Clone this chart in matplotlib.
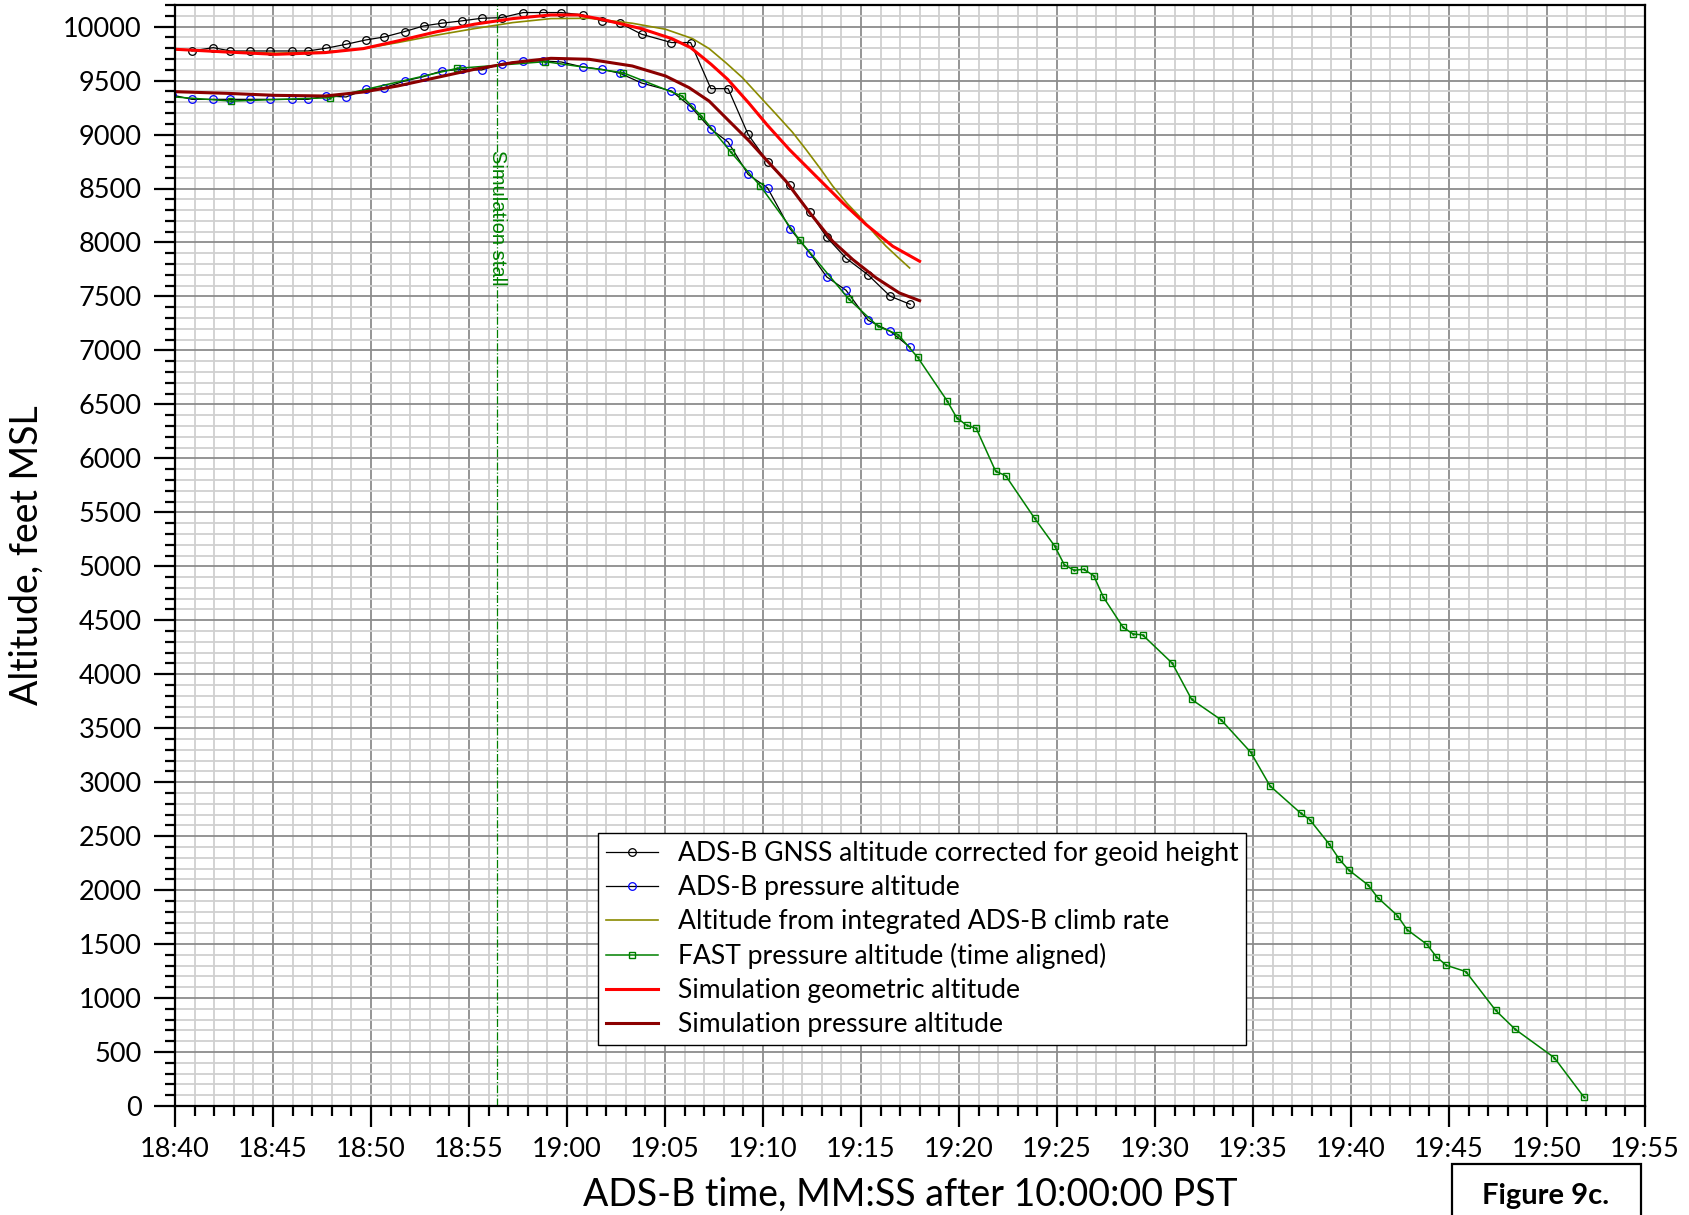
import matplotlib
matplotlib.use("Agg")
import matplotlib.pyplot as plt
from matplotlib.ticker import MultipleLocator, FuncFormatter
from matplotlib.patches import Rectangle

# times are seconds after 10:00:00 (shown as MM:SS)
gnss_t = [1120.86, 1121.95, 1122.83, 1123.85, 1124.86, 1125.96, 1126.78, 1127.70, 1128.73, 1129.73,
          1130.68, 1131.72, 1132.68, 1133.61, 1134.63, 1135.64, 1136.66, 1137.77, 1138.75, 1139.71,
          1140.80, 1141.78, 1142.71, 1143.81, 1145.33, 1146.31, 1147.34, 1148.22, 1149.24, 1150.23,
          1151.37, 1152.38, 1153.25, 1154.24, 1155.36, 1156.49, 1157.51]
gnss_alt = [9774, 9805, 9774, 9774, 9774, 9774, 9774, 9799, 9836, 9876,
            9904, 9954, 10006, 10031, 10053, 10077, 10083, 10130, 10130, 10130,
            10108, 10053, 10031, 9929, 9852, 9852, 9425, 9425, 9001, 8748,
            8528, 8281, 8049, 7854, 7700, 7502, 7427]

press_t = [1119.86] + gnss_t
press_alt = [9366, 9326, 9326, 9326, 9326, 9326, 9326, 9326, 9357, 9348, 9419,
             9434, 9496, 9536, 9589, 9604, 9598, 9657, 9682, 9682, 9672,
             9626, 9604, 9567, 9477, 9403, 9258, 9051, 8930, 8630, 8506,
             8129, 7904, 7681, 7557, 7279, 7177, 7028]

climb_t = [1120.0, 1122.58, 1125.12, 1127.66, 1129.61, 1131.37, 1133.32, 1135.27, 1137.23, 1139.18,
           1141.13, 1143.33, 1145.03, 1146.40, 1147.25, 1148.10, 1148.95, 1149.81, 1150.66, 1151.51,
           1152.19, 1152.90, 1153.56, 1154.30, 1155.09, 1155.70, 1156.28, 1156.90, 1157.48]
climb_alt = [9790, 9768, 9753, 9765, 9796, 9852, 9920, 9981, 10037, 10074,
             10077, 10031, 9975, 9889, 9796, 9666, 9527, 9357, 9190, 9020,
             8862, 8690, 8522, 8360, 8210, 8080, 7965, 7860, 7764]

fast_t = [1117.87, 1122.87, 1127.89, 1134.39, 1138.89, 1142.85, 1145.86, 1146.86, 1148.36, 1149.87,
          1151.87, 1154.37, 1155.87, 1156.90, 1157.89, 1159.39, 1159.88, 1160.39, 1160.88, 1161.87,
          1162.38, 1163.86, 1164.88, 1165.37, 1165.87, 1166.36, 1166.87, 1167.36, 1168.37, 1168.88,
          1169.37, 1170.88, 1171.87, 1173.37, 1174.88, 1175.87, 1177.44, 1177.89, 1178.88, 1179.39,
          1179.88, 1180.87, 1181.36, 1182.37, 1182.86, 1183.87, 1184.36, 1184.86, 1185.86, 1187.38,
          1188.38, 1190.37, 1191.87]
fast_alt = [9376, 9310, 9341, 9613, 9675, 9573, 9357, 9171, 8837, 8522,
            8021, 7477, 7223, 7146, 6936, 6534, 6377, 6306, 6278, 5880,
            5840, 5444, 5188, 5015, 4963, 4972, 4914, 4716, 4435, 4373,
            4364, 4102, 3766, 3578, 3278, 2965, 2712, 2654, 2428, 2289,
            2187, 2048, 1931, 1764, 1634, 1498, 1381, 1304, 1245, 886,
            710, 448, 86]

simgeo_t = [1120.0, 1122.58, 1125.12, 1127.66, 1129.61, 1131.37, 1133.32, 1135.27, 1137.23, 1139.18,
            1140.55, 1141.71, 1143.79, 1145.34, 1146.31, 1147.35, 1148.20, 1149.26, 1150.23, 1151.34,
            1152.70, 1154.07, 1155.26, 1156.62, 1157.99]
simgeo_alt = [9790, 9765, 9743, 9759, 9796, 9867, 9951, 10022, 10074, 10108,
              10108, 10070, 9981, 9889, 9805, 9651, 9511, 9295, 9085, 8862,
              8615, 8367, 8166, 7965, 7826]

simpr_t = [1120.0, 1122.58, 1125.12, 1127.66, 1129.61, 1131.37, 1133.32, 1135.27, 1137.23, 1139.18,
           1141.13, 1143.33, 1145.03, 1146.23, 1147.25, 1148.44, 1149.30, 1150.15, 1151.17, 1152.36,
           1153.55, 1154.58, 1155.77, 1156.96, 1157.99]
simpr_alt = [9397, 9382, 9363, 9357, 9394, 9450, 9527, 9604, 9666, 9706,
             9697, 9635, 9542, 9434, 9310, 9094, 8939, 8769, 8568, 8281,
             8012, 7842, 7672, 7532, 7461]

stall_t = 1136.45

labels = ["ADS-B GNSS altitude corrected for geoid height",
          "ADS-B pressure altitude",
          "Altitude from integrated ADS-B climb rate",
          "FAST pressure altitude (time aligned)",
          "Simulation geometric altitude",
          "Simulation pressure altitude"]

plt.rcParams['font.family'] = ['Lato', 'DejaVu Sans']

fig = plt.figure(figsize=(16.9, 12.15), dpi=100)
ax = fig.add_axes([175 / 1690, 1 - 1106 / 1215, 1470 / 1690, 1101 / 1215])

ax.plot(gnss_t, gnss_alt, color='black', lw=0.9, marker='o', ms=5.5, mfc='none',
        mec='black', mew=0.9, label=labels[0])
ax.plot(press_t, press_alt, color='black', lw=0.9, marker='o', ms=5.5, mfc='none',
        mec='#0000ff', mew=0.9, label=labels[1])
ax.plot(climb_t, climb_alt, color='#8a8a00', lw=1.2, label=labels[2])
ax.plot(fast_t, fast_alt, color='#008000', lw=1.1, marker='s', ms=5, mfc='none',
        mec='#008000', mew=1.0, label=labels[3])
ax.plot(fast_t, fast_alt, ls='none', marker='s', ms=0.8, color='#008000')
ax.plot(simgeo_t, simgeo_alt, color='#ff0000', lw=2.2, label=labels[4])
ax.plot(simpr_t, simpr_alt, color='#8b0000', lw=2.2, label=labels[5])

ax.axvline(stall_t, color='#008000', lw=0.9, ls='-.')
ax.text(stall_t, 8230, "Simulation stall", rotation=270, ha='center', va='center',
        color='#008000', fontsize=14.5, family=['Liberation Sans', 'DejaVu Sans'])

ax.set_xlim(1120, 1195)
ax.set_ylim(0, 10200)
ax.xaxis.set_major_locator(MultipleLocator(5))
ax.xaxis.set_minor_locator(MultipleLocator(1))
ax.yaxis.set_major_locator(MultipleLocator(500))
ax.yaxis.set_minor_locator(MultipleLocator(100))
ax.xaxis.set_major_formatter(FuncFormatter(lambda v, p: "%d:%02d" % (int(round(v)) // 60, int(round(v)) % 60)))
ax.yaxis.set_major_formatter(FuncFormatter(lambda v, p: "%d" % v))

ax.set_axisbelow(True)
ax.grid(which='minor', color='#d0d0d0', lw=1.3)
ax.grid(which='major', color='#8c8c8c', lw=1.3)

for s in ax.spines.values():
    s.set_linewidth(1.6)
ax.tick_params(which='major', direction='out', length=15, width=1.6, labelsize=19.5)
ax.tick_params(which='minor', direction='out', length=7.5, width=1.6)
ax.tick_params(axis='y', which='major', pad=9)
ax.tick_params(axis='x', which='major', pad=7)

ax.set_xlabel("ADS-B time, MM:SS after 10:00:00 PST", fontsize=27)
ax.xaxis.set_label_coords(0.5, -0.081)
ax.xaxis.label.set_va('center')
ax.set_ylabel("Altitude, feet MSL", fontsize=27)
ax.yaxis.set_label_coords(-0.1007, 0.5)
ax.yaxis.label.set_va('center')

leg = ax.legend(loc='upper left', bbox_to_anchor=((598 - 175) / 1470, (1106 - 833) / 1101),
                borderaxespad=0, fontsize=19.1, handlelength=1.95, labelspacing=0.34,
                fancybox=False, framealpha=1, edgecolor='black', borderpad=0.3,
                handletextpad=0.75, numpoints=1)
leg.get_frame().set_linewidth(1.0)

fig.add_artist(Rectangle((1452 / 1690, -0.02), 189 / 1690, (1215 - 1164) / 1215 + 0.02,
                         transform=fig.transFigure, facecolor='white', edgecolor='black', lw=1.6))
fig.text(1546 / 1690, 1 - 1196 / 1215, "Figure 9c.", ha='center', va='center',
         fontsize=21, fontweight='bold')

fig.savefig("out.png", dpi=100)
